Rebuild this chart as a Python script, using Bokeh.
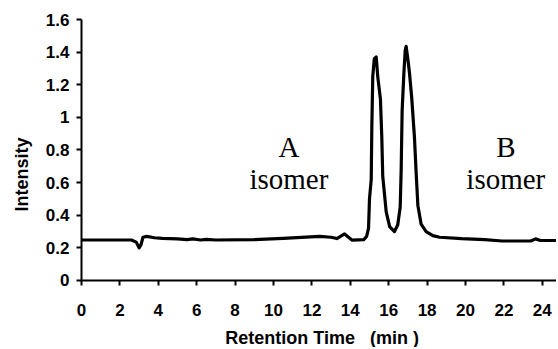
import math
from bokeh.plotting import figure
from bokeh.models import ColumnDataSource, Range1d, FixedTicker, Label
from bokeh.core.properties import value
from bokeh.embed import file_html
from bokeh.resources import INLINE

# Chromatogram trace (retention time in min, intensity)
rt = [0, 2.6, 2.85, 3.0, 3.1, 3.2, 3.4, 3.8, 4.2, 5.0, 5.5, 5.8, 6.2, 6.5, 7.0,
      9.0, 10.5, 12.4, 13.0, 13.3, 13.7, 14.1, 14.7, 14.85, 14.95, 15.0, 15.09,
      15.12, 15.17, 15.25, 15.35, 15.43, 15.57, 15.64, 15.69, 15.87, 16.05, 16.3,
      16.47, 16.6, 16.65, 16.7, 16.79, 16.86, 16.91, 17.0, 17.08, 17.2, 17.34,
      17.43, 17.52, 17.69, 17.95, 18.3, 18.65, 19.8, 21.0, 21.9, 23.4, 23.65,
      23.9, 24.8]
intensity = [0.248, 0.248, 0.235, 0.20, 0.22, 0.265, 0.27, 0.262, 0.258, 0.255,
             0.25, 0.255, 0.248, 0.252, 0.248, 0.25, 0.258, 0.27, 0.265, 0.257,
             0.285, 0.247, 0.25, 0.27, 0.32, 0.50, 0.62, 0.93, 1.25, 1.36, 1.37,
             1.25, 1.11, 0.88, 0.64, 0.42, 0.33, 0.30, 0.34, 0.45, 0.68, 1.04,
             1.27, 1.41, 1.435, 1.355, 1.275, 1.12, 0.88, 0.66, 0.46, 0.345, 0.30,
             0.275, 0.265, 0.256, 0.25, 0.242, 0.242, 0.255, 0.245, 0.245]

x_ticks = [0, 2, 4, 6, 8, 10, 12, 14, 16, 18, 20, 22, 24]
y_ticks = [0, 0.2, 0.4, 0.6, 0.8, 1.0, 1.2, 1.4, 1.6]
y_tick_labels = ["0", "0.2", "0.4", "0.6", "0.8", "1", "1.2", "1.4", "1.6"]

# Annotations
ann_x = [10.8, 22.1]
ann_top = ["A", "B"]
ann_bottom = ["isomer", "isomer"]
ann_y_top = [0.82, 0.82]
ann_y_bottom = [0.62, 0.62]

p = figure(width=556, height=347, output_backend="svg", toolbar_location=None,
           x_range=Range1d(-4.219, 24.74), y_range=Range1d(-0.411, 1.7165),
           min_border_left=0, min_border_right=0, min_border_top=0,
           min_border_bottom=0)
p.outline_line_color = None
p.background_fill_color = "white"
p.border_fill_color = "white"
p.xgrid.visible = False
p.ygrid.visible = False

p.line(rt, intensity, line_color="black", line_width=3.2, line_join="round")

src = ColumnDataSource(dict(x=ann_x, yt=ann_y_top, yb=ann_y_bottom,
                            t=ann_top, b=ann_bottom))
p.text(x="x", y="yt", text="t", source=src, text_font=value("Liberation Serif"),
       text_font_size="29px", text_align="center", text_baseline="alphabetic",
       text_color="black")
p.text(x="x", y="yb", text="b", source=src, text_font=value("Liberation Serif"),
       text_font_size="29px", text_align="center", text_baseline="alphabetic",
       text_color="black")

for ax in (p.xaxis[0], p.yaxis[0]):
    ax.axis_line_color = "black"
    ax.axis_line_width = 2
    ax.major_tick_line_color = "black"
    ax.major_tick_line_width = 2
    ax.major_tick_out = 5
    ax.major_tick_in = 0
    ax.minor_tick_line_color = None
    ax.major_label_text_font = "Liberation Sans"
    ax.major_label_text_font_style = "bold"
    ax.major_label_text_font_size = "17px"
    ax.major_label_text_color = "black"

p.xaxis.fixed_location = 0
p.yaxis.fixed_location = 0
p.xaxis.bounds = (0, 24.74)
p.yaxis.bounds = (0, 1.6)
p.xaxis.ticker = FixedTicker(ticks=x_ticks)
p.yaxis.ticker = FixedTicker(ticks=y_ticks)
p.yaxis.major_label_overrides = {t: l for t, l in zip(y_ticks, y_tick_labels)}
p.xaxis.major_label_standoff = 19
p.yaxis.major_label_standoff = 7

xlab = Label(x=12.53, y=-0.352, text="Retention Time \u00a0\u00a0(min\u00a0)",
             text_align="center", text_baseline="alphabetic",
             text_font="Liberation Sans", text_font_style="bold",
             text_font_size="18px", text_color="black")
ylab = Label(x=-3.1, y=0.65, text="Intensity", angle=math.pi / 2,
             text_align="center", text_baseline="middle",
             text_font="Liberation Sans", text_font_style="bold",
             text_font_size="18px", text_color="black")
p.add_layout(xlab)
p.add_layout(ylab)

open("out.html", "w").write(file_html(p, INLINE))
